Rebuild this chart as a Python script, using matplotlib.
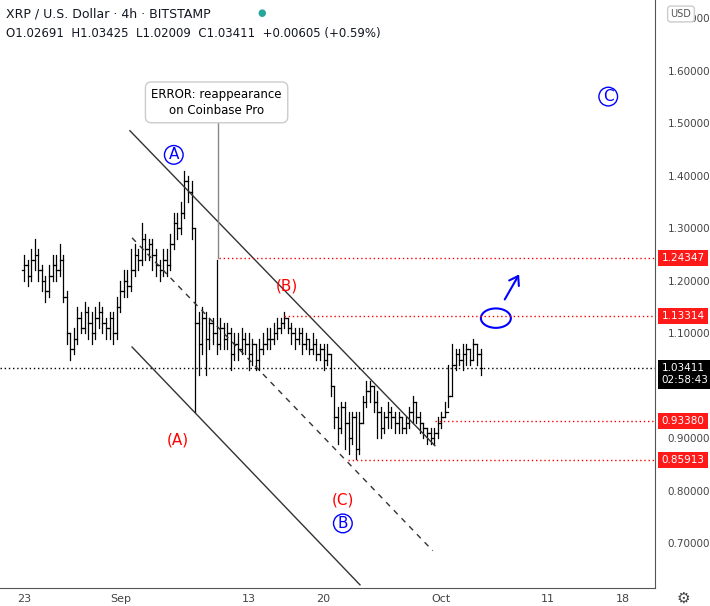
import numpy as np
import matplotlib.pyplot as plt
from matplotlib.patches import Ellipse, FancyArrowPatch
from matplotlib.transforms import blended_transform_factory

# 8h bars, day index counted from Aug 23
closes = [1.23,1.21,1.24, 1.25,1.22,1.20, 1.18,1.21,1.23, 1.22,1.24,1.17, 1.10,1.07,1.09,
          1.13,1.11,1.14, 1.12,1.10,1.13, 1.14,1.12,1.11, 1.13,1.10,1.15, 1.18,1.20,1.19,
          1.22,1.25,1.24, 1.28,1.26,1.27, 1.25,1.23,1.22, 1.24,1.23,1.27, 1.31,1.30,1.33,
          1.39,1.37,1.30, 1.12,1.08,1.13, 1.09,1.12,1.10, 1.08,1.11,1.09, 1.10,1.06,1.08,
          1.07,1.09,1.08, 1.06,1.08,1.05, 1.07,1.08,1.09, 1.09,1.10,1.11, 1.12,1.13,1.11,
          1.10,1.09,1.10, 1.08,1.09,1.07, 1.08,1.06,1.07, 1.05,1.06,1.00, 0.94,0.92,0.96,
          0.93,0.90,0.94, 0.88,0.93,0.97, 0.99,1.00,0.97, 0.95,0.92,0.94, 0.95,0.94,0.93,
          0.94,0.92,0.93, 0.95,0.97,0.94, 0.93,0.92,0.91, 0.90,0.91,0.93, 0.94,0.95,0.98,
          1.04,1.06,1.05, 1.06,1.07,1.05, 1.08,1.06,1.034]
highs = [1.25,1.24,1.26, 1.28,1.26,1.23, 1.21,1.23,1.25, 1.25,1.27,1.25, 1.18,1.10,1.11,
         1.15,1.14,1.16, 1.15,1.14,1.15, 1.16,1.15,1.13, 1.14,1.14,1.17, 1.20,1.22,1.22,
         1.26,1.27,1.26, 1.31,1.29,1.28, 1.28,1.26,1.24, 1.26,1.26,1.29, 1.33,1.33,1.35,
         1.41,1.40,1.39, 1.30,1.14,1.15, 1.14,1.13,1.13, 1.24,1.13,1.12, 1.12,1.11,1.10,
         1.10,1.11,1.10, 1.10,1.09,1.08, 1.09,1.10,1.11, 1.11,1.12,1.13, 1.13,1.14,1.13,
         1.12,1.11,1.11, 1.11,1.10,1.09, 1.10,1.09,1.08, 1.08,1.08,1.06, 1.00,0.96,0.97,
         0.97,0.95,0.95, 0.95,0.95,0.98, 1.01,1.01,1.00, 0.99,0.96,0.95, 0.97,0.96,0.95,
         0.95,0.94,0.94, 0.96,0.98,0.97, 0.95,0.93,0.92, 0.92,0.92,0.94, 0.95,0.97,1.04,
         1.08,1.07,1.07, 1.08,1.08,1.07, 1.09,1.08,1.07]
lows = [1.20,1.19,1.20, 1.22,1.20,1.18, 1.16,1.17,1.20, 1.20,1.21,1.16, 1.08,1.05,1.06,
        1.08,1.10,1.10, 1.09,1.08,1.09, 1.11,1.10,1.09, 1.09,1.08,1.09, 1.14,1.17,1.17,
        1.18,1.21,1.22, 1.23,1.24,1.24, 1.22,1.21,1.20, 1.21,1.21,1.22, 1.26,1.28,1.29,
        1.32,1.35,1.28, 0.95,1.02,1.06, 1.02,1.07,1.08, 1.06,1.07,1.07, 1.07,1.03,1.05,
        1.05,1.06,1.06, 1.03,1.04,1.03, 1.03,1.06,1.07, 1.07,1.08,1.09, 1.10,1.11,1.10,
        1.08,1.07,1.08, 1.06,1.07,1.06, 1.06,1.05,1.05, 1.03,1.04,0.98, 0.92,0.89,0.91,
        0.88,0.87,0.89, 0.86,0.87,0.93, 0.96,0.97,0.95, 0.90,0.90,0.91, 0.92,0.92,0.91,
        0.91,0.91,0.91, 0.92,0.93,0.93, 0.91,0.90,0.89, 0.89,0.89,0.90, 0.92,0.94,0.96,
        0.98,1.03,1.04, 1.03,1.04,1.04, 1.05,1.04,1.02]
first_open = 1.22

red_levels = [1.24347, 1.13314, 0.93380, 0.85913]
red_starts = [18.2, 24.3, 38.4, 30.3]   # day where each dotted line begins
last_price = 1.03411
price_ticks = [0.7, 0.8, 0.9, 1.1, 1.2, 1.3, 1.4, 1.5, 1.6, 1.7]  # 1.0 hidden by price tag
date_ticks = [0, 9, 21, 28, 39, 49, 56]
date_labels = ["23", "Sep", "13", "20", "Oct", "11", "18"]

fig = plt.figure(figsize=(7.1, 6.06), dpi=100)
ax = fig.add_axes([0, 18 / 606, 655 / 710, 588 / 606])
ax.set_xlim(-2.24, 58.97)
ax.set_ylim(0.615, 1.735)

days = np.arange(len(closes)) / 3.0
opens = [first_open] + closes[:-1]
w = 0.15
for d, o, h, l, c in zip(days, opens, highs, lows, closes):
    ax.plot([d, d], [l, h], color="black", lw=0.9)
    ax.plot([d - w, d], [o, o], color="black", lw=0.9)
    ax.plot([d, d + w], [c, c], color="black", lw=0.9)

# channel
ax.plot([9.9, 38.4], [1.486, 0.886], color="#333333", lw=1)
ax.plot([10.1, 38.2], [1.282, 0.686], color="#333333", lw=1, ls=(0, (4, 4)))
ax.plot([10.1, 31.4], [1.074, 0.621], color="#333333", lw=1)

for lvl, s in zip(red_levels, red_starts):
    ax.plot([s, 59], [lvl, lvl], color="red", lw=1, ls=(0, (1, 2)))
ax.axhline(last_price, color="black", lw=1, ls=(0, (1, 2)))

# error note
ax.plot([18.1, 18.1], [1.244, 1.503], color="#888888", lw=1)
ax.text(18.0, 1.54, "ERROR: reappearance\non Coinbase Pro", ha="center", va="center",
        fontsize=8.5, linespacing=1.3,
        bbox=dict(boxstyle="round,pad=0.5", fc="white", ec="#cccccc"))

def circ(x, y, t):
    ax.text(x, y, t, color="blue", fontsize=11, ha="center", va="center",
            bbox=dict(boxstyle="circle,pad=0.12", fc="white", ec="blue", lw=1))

circ(14.0, 1.440, "A")
circ(29.8, 0.738, "B")
circ(54.6, 1.551, "C")
ax.text(24.6, 1.190, "(B)", color="red", fontsize=11, ha="center", va="center")
ax.text(14.4, 0.897, "(A)", color="red", fontsize=11, ha="center", va="center")
ax.text(29.8, 0.783, "(C)", color="red", fontsize=11, ha="center", va="center")
ax.add_patch(Ellipse((44.1, 1.129), 2.8, 0.037, fc="none", ec="blue", lw=1.5))
ax.add_patch(FancyArrowPatch((44.8, 1.16), (46.4, 1.217), arrowstyle="->,head_length=6,head_width=4",
                             color="blue", lw=1.5))

ax.yaxis.tick_right()
ax.set_yticks(price_ticks)
ax.set_yticklabels(["%.5f" % p for p in price_ticks], color="#444444", fontsize=7.5)
ax.set_xticks(date_ticks)
ax.set_xticklabels(date_labels, color="#444444", fontsize=8)
ax.tick_params(length=0, axis="y", pad=9)
ax.tick_params(length=0, axis="x", pad=4)
for s in ["top", "left"]:
    ax.spines[s].set_visible(False)
ax.spines["right"].set_color("#555555")
ax.spines["bottom"].set_color("#555555")

tr = blended_transform_factory(ax.transAxes, ax.transData)
for lvl in red_levels:
    ax.text(1.01, lvl, "%.5f" % lvl, transform=tr, color="white", fontsize=7.5, va="center",
            bbox=dict(boxstyle="square,pad=0.3", fc="#ff1a1a", ec="none"), clip_on=False)
ax.text(1.01, last_price - 0.012, "%.5f\n02:58:43" % last_price, transform=tr, color="white",
        fontsize=7.5, va="center", linespacing=1.3,
        bbox=dict(boxstyle="square,pad=0.3", fc="black", ec="none"), clip_on=False)

fig.text(6 / 710, 1 - 14 / 606, "XRP / U.S. Dollar · 4h · BITSTAMP", fontsize=9, va="center", color="#131722")
fig.text(262 / 710, 1 - 13 / 606, "●", fontsize=7, color="#26a69a", va="center", ha="center")
fig.text(6 / 710, 1 - 34 / 606, "O1.02691  H1.03425  L1.02009  C1.03411  +0.00605 (+0.59%)",
         fontsize=8.5, va="center", color="#131722")
fig.text(681 / 710, 1 - 14 / 606, "USD", fontsize=7, va="center", ha="center", color="#555555",
         zorder=10, bbox=dict(boxstyle="round,pad=0.3", fc="white", ec="#cccccc"))
fig.text(683 / 710, 1 - 598 / 606, "⚙", fontsize=11, va="center", ha="center", color="#444444")

fig.savefig("out.png", dpi=100)
